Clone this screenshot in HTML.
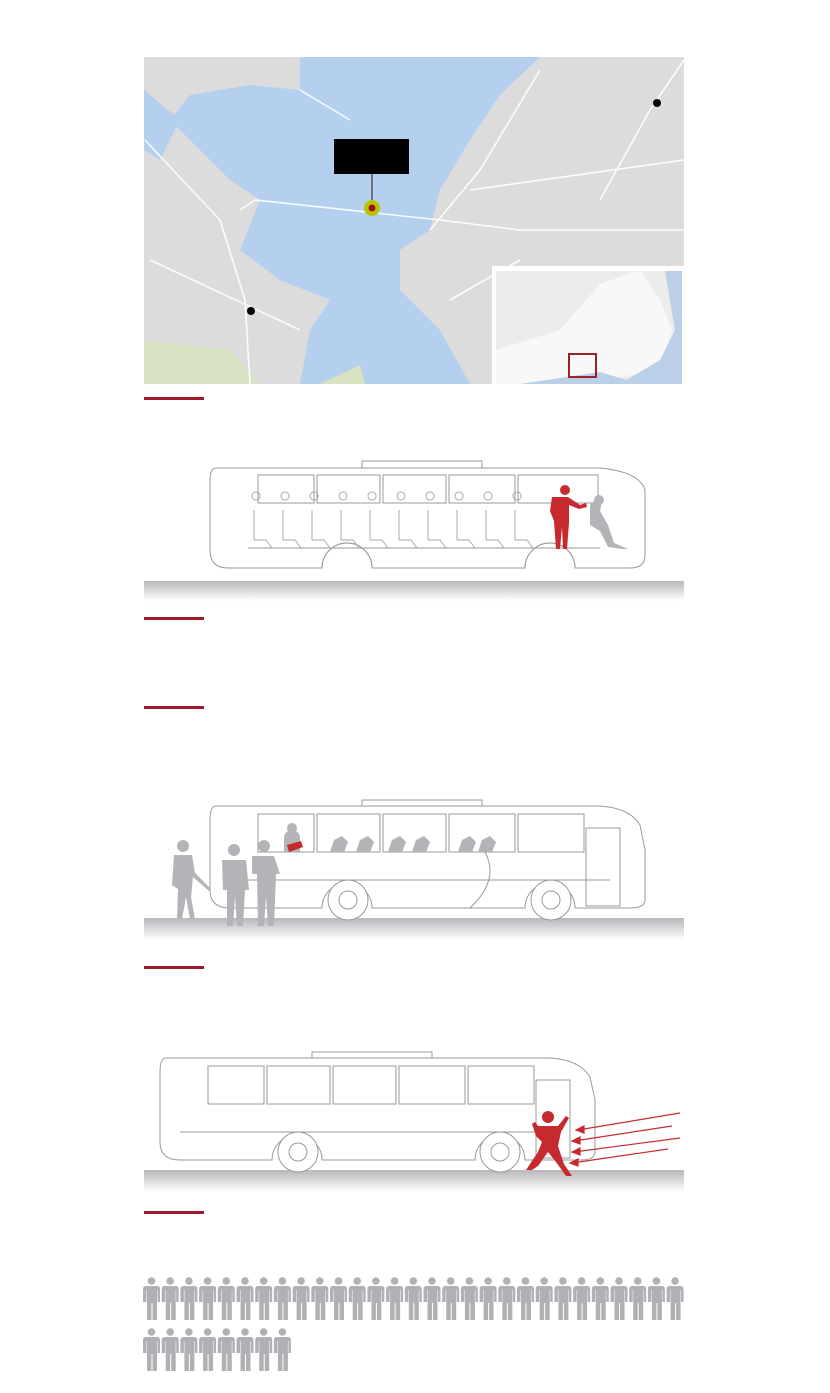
<!DOCTYPE html>
<html><head><meta charset="utf-8"><style>
html,body{margin:0;padding:0;background:#fff;}
body{width:830px;height:1388px;position:relative;overflow:hidden;font-family:"Liberation Sans",sans-serif;}
</style></head><body>
<svg width="830" height="1388" viewBox="0 0 830 1388" xmlns="http://www.w3.org/2000/svg">
<defs>
<linearGradient id="g" x1="0" y1="0" x2="0" y2="1"><stop offset="0" stop-color="#b8b8bc"/><stop offset="1" stop-color="#ffffff"/></linearGradient>
<g id="p"><circle cx="8.5" cy="4" r="3.8" fill="#b0b1b5"/><path d="M3 9h11q3 0 3 3v13h-2.5v-12h-0.5v30h-4.5v-17h-1v17h-4.5v-30h-0.5v12H0v-13q0-3 3-3z" fill="#b0b1b5"/></g>
</defs>
<!-- MAP -->
<rect x="144" y="57" width="540" height="327" fill="#dcdcdc"/>
<path d="M300 57 L540 57 L500 95 L470 140 L440 190 L430 230 L400 250 L400 290 L440 330 L470 384 L300 384 L310 330 L330 300 L280 280 L240 250 L260 200 L230 180 L200 150 L170 120 L190 95 L250 85 L300 90 Z" fill="#b5d0ee"/>
<path d="M144 90 L180 120 L160 160 L144 150Z" fill="#b5d0ee"/>
<path d="M144 340 L230 350 L260 384 L144 384Z" fill="#d8e3c2"/>
<path d="M320 384 L360 365 L365 384Z" fill="#d8e3c2"/>
<path d="M145 140 L220 220 L245 300 L250 384 M240 210 L255 200 L440 220 L520 230 L684 230 M430 230 L480 170 L540 70 M600 200 L650 110 L684 60 M150 260 L300 330 M350 120 L300 90 M450 300 L520 260 M470 190 L684 160" stroke="#fff" stroke-width="1.6" fill="none" opacity="0.9"/>
<line x1="372" y1="172" x2="372" y2="208" stroke="#555" stroke-width="1.5"/>
<rect x="334" y="139" width="75" height="35" fill="#000"/>
<circle cx="372" cy="208" r="8" fill="#b8c400"/><circle cx="372" cy="208" r="3.5" fill="#a0101a"/>
<circle cx="251" cy="311" r="4" fill="#000"/><circle cx="657" cy="103" r="4" fill="#000"/>
<rect x="492" y="266" width="192" height="118" fill="#fff"/>
<rect x="496" y="271" width="186" height="113" fill="#ececea"/>
<path d="M600 284 L640 270 L660 300 L672 330 L660 370 L580 384 L496 384 L496 350 L560 330 Z" fill="#f8f8f8"/>
<path d="M665 271 L682 271 L682 384 L620 384 L660 360 L675 330Z" fill="#bacfe8"/>
<path d="M520 384 L600 372 L640 384Z" fill="#bacfe8"/>
<rect x="569" y="354" width="27" height="23" fill="none" stroke="#a0202a" stroke-width="2"/>
<!-- red bars -->
<g fill="#9c1a2b"><rect x="144" y="397" width="60" height="3"/><rect x="144" y="617" width="60" height="3"/><rect x="144" y="706" width="60" height="3"/><rect x="144" y="966" width="60" height="3"/><rect x="144" y="1211" width="60" height="3"/></g>
<!-- grounds -->
<rect x="144" y="581" width="540" height="20" fill="url(#g)"/>
<rect x="144" y="918" width="540" height="22" fill="url(#g)"/>
<rect x="144" y="1170" width="540" height="22" fill="url(#g)"/>
<!-- BUS 1 -->
<g fill="#fff" stroke="#999" stroke-width="1">
<path d="M362 468 V461 H482 V468"/>
<path d="M216 468 H600 Q640 472 645 490 V555 Q645 568 630 568 H575 A25 25 0 0 0 525 568 H372 A25 25 0 0 0 322 568 H228 Q210 568 210 550 V480 Q210 468 216 468Z"/>
<path d="M322 568 A25 25 0 0 1 372 568 M525 568 A25 25 0 0 1 575 568" fill="none"/>
<rect x="258" y="475" width="56" height="28"/><rect x="317" y="475" width="63" height="28"/><rect x="383" y="475" width="63" height="28"/><rect x="449" y="475" width="66" height="28"/><rect x="518" y="475" width="80" height="28"/>
<line x1="248" y1="548" x2="600" y2="548"/>
</g>
<g fill="none" stroke="#aaa" stroke-width="1">
<path d="M254 540 h12 l6 8 M283 540 h12 l6 8 M312 540 h12 l6 8 M341 540 h12 l6 8 M370 540 h12 l6 8 M399 540 h12 l6 8 M428 540 h12 l6 8 M457 540 h12 l6 8 M486 540 h12 l6 8 M515 540 h12 l6 8"/>
<path d="M256 500 a4 4 0 1 1 0.1 0 M285 500 a4 4 0 1 1 0.1 0 M314 500 a4 4 0 1 1 0.1 0 M343 500 a4 4 0 1 1 0.1 0 M372 500 a4 4 0 1 1 0.1 0 M401 500 a4 4 0 1 1 0.1 0 M430 500 a4 4 0 1 1 0.1 0 M459 500 a4 4 0 1 1 0.1 0 M488 500 a4 4 0 1 1 0.1 0 M517 500 a4 4 0 1 1 0.1 0"/>
<path d="M254 510 v30 M283 510 v30 M312 510 v30 M341 510 v30 M370 510 v30 M399 510 v30 M428 510 v30 M457 510 v30 M486 510 v30 M515 510 v30"/>
</g>
<path d="M590 505 l8 -8 4 4 -2 10 8 14 6 18 14 6 h-6 l-14 -2 -8 -16 -10 -6 z" fill="#b4b4b8"/>
<circle cx="599" cy="500" r="5" fill="#b4b4b8"/>
<g fill="#c62a2f"><circle cx="565" cy="490" r="5"/><path d="M552 497 h16 l12 8 6 -2 1 4 -8 2 -10 -4 v18 l-2 26 h-4 l-1 -22 -2 22 h-4 l-2 -28 -4 -10z"/></g>
<!-- BUS 2 -->
<g fill="#fff" stroke="#999" stroke-width="1">
<path d="M362 806 V800 H482 V806"/>
<path d="M216 806 H600 Q630 808 640 825 L645 850 V900 Q645 908 630 908 H575 A25 25 0 0 0 525 908 H372 A25 25 0 0 0 322 908 H230 Q210 908 210 890 V820 Q210 806 216 806Z"/>
<rect x="258" y="814" width="56" height="38"/><rect x="317" y="814" width="63" height="38"/><rect x="383" y="814" width="63" height="38"/><rect x="449" y="814" width="66" height="38"/><rect x="518" y="814" width="66" height="38"/>
<rect x="586" y="828" width="34" height="78"/>
<line x1="230" y1="880" x2="610" y2="880"/>
<path d="M485 852 Q500 880 470 908" fill="none"/>
<circle cx="348" cy="900" r="20"/><circle cx="348" cy="900" r="9"/>
<circle cx="551" cy="900" r="20"/><circle cx="551" cy="900" r="9"/>
</g>
<g fill="#b4b4b8">
<path d="M284 852 v-14 a8 8 0 0 1 16 0 v14z"/><circle cx="292" cy="828" r="5"/>
<path d="M330 852 l4 -12 8 -4 6 6 -4 10z M356 852 l4 -12 8 -4 6 6 -4 10z M388 852 l4 -12 8 -4 6 6 -4 10z M412 852 l4 -12 8 -4 6 6 -4 10z M458 852 l4 -12 8 -4 6 6 -4 10z M478 852 l4 -12 8 -4 6 6 -4 10z"/>
<circle cx="183" cy="846" r="6"/><path d="M174 855 h18 l3 18 16 16 -2 2 -16 -14 -2 20 4 22 h-5 l-4 -22 -4 22 h-5 l1 -30 -6 -4z"/>
<circle cx="234" cy="850" r="6"/><path d="M222 860 h24 l3 30 h-4 l-2 36 h-6 l-2 -30 -2 30 h-6 v-36 h-4z"/>
<circle cx="264" cy="846" r="6"/><path d="M252 856 h22 l6 18 h-4 l-2 52 h-6 l-2 -30 -2 30 h-6 l-1 -52 h-5z"/>
</g>
<path d="M287 845 l14 -4 2 6 -14 5z" fill="#c62a2f"/>
<!-- BUS 3 -->
<g fill="#fff" stroke="#999" stroke-width="1">
<path d="M312 1058 V1052 H432 V1058"/>
<path d="M166 1058 H550 Q580 1060 590 1077 L595 1100 V1152 Q595 1160 580 1160 H525 A25 25 0 0 0 475 1160 H322 A25 25 0 0 0 272 1160 H180 Q160 1160 160 1142 V1072 Q160 1058 166 1058Z"/>
<rect x="208" y="1066" width="56" height="38"/><rect x="267" y="1066" width="63" height="38"/><rect x="333" y="1066" width="63" height="38"/><rect x="399" y="1066" width="66" height="38"/><rect x="468" y="1066" width="66" height="38"/>
<rect x="536" y="1080" width="34" height="78"/>
<line x1="180" y1="1132" x2="560" y2="1132"/>
<circle cx="298" cy="1152" r="20"/><circle cx="298" cy="1152" r="9"/>
<circle cx="500" cy="1152" r="20"/><circle cx="500" cy="1152" r="9"/>
</g>
<g fill="#c62a2f">
<circle cx="548" cy="1117" r="6"/>
<path d="M538 1126 h20 l8 -10 3 2 -8 14 -3 14 6 18 8 12 h-6 l-10 -14 -8 -10 -10 14 -6 4 h-6 l12 -18 4 -10 -6 -6 -4 -12 3 -2z"/>
</g>
<g stroke="#c62a2f" stroke-width="1.2" fill="#c62a2f">
<line x1="578" y1="1130" x2="680" y2="1113"/><line x1="574" y1="1141" x2="672" y2="1126"/><line x1="574" y1="1152" x2="680" y2="1138"/><line x1="572" y1="1163" x2="668" y2="1149"/>
<path d="M576 1130 l8 -4 v7z M572 1141 l8 -4 v7z M572 1152 l8 -4 v7z M570 1163 l8 -4 v7z"/>
</g>
<!-- people -->
<g>
<use href="#p" x="143" y="1277"/><use href="#p" x="161.7" y="1277"/><use href="#p" x="180.4" y="1277"/><use href="#p" x="199.1" y="1277"/><use href="#p" x="217.8" y="1277"/><use href="#p" x="236.5" y="1277"/><use href="#p" x="255.2" y="1277"/><use href="#p" x="273.9" y="1277"/><use href="#p" x="292.6" y="1277"/><use href="#p" x="311.3" y="1277"/><use href="#p" x="330" y="1277"/><use href="#p" x="348.7" y="1277"/><use href="#p" x="367.4" y="1277"/><use href="#p" x="386.1" y="1277"/><use href="#p" x="404.8" y="1277"/><use href="#p" x="423.5" y="1277"/><use href="#p" x="442.2" y="1277"/><use href="#p" x="460.9" y="1277"/><use href="#p" x="479.6" y="1277"/><use href="#p" x="498.3" y="1277"/><use href="#p" x="517" y="1277"/><use href="#p" x="535.7" y="1277"/><use href="#p" x="554.4" y="1277"/><use href="#p" x="573.1" y="1277"/><use href="#p" x="591.8" y="1277"/><use href="#p" x="610.5" y="1277"/><use href="#p" x="629.2" y="1277"/><use href="#p" x="647.9" y="1277"/><use href="#p" x="666.6" y="1277"/>
<use href="#p" x="143" y="1328"/><use href="#p" x="161.7" y="1328"/><use href="#p" x="180.4" y="1328"/><use href="#p" x="199.1" y="1328"/><use href="#p" x="217.8" y="1328"/><use href="#p" x="236.5" y="1328"/><use href="#p" x="255.2" y="1328"/><use href="#p" x="273.9" y="1328"/>
</g>
</svg>
</body></html>
